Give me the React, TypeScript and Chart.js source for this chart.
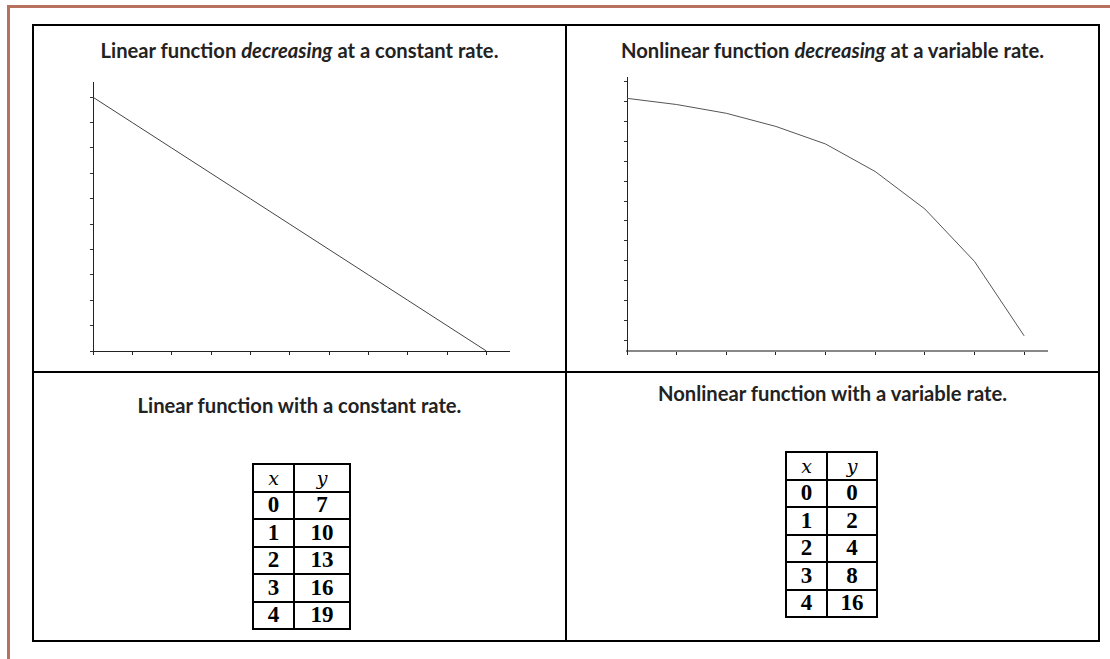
import React, { useEffect, useRef } from "react";
import { Chart, registerables } from "chart.js";

Chart.register(...registerables);

// ---- data ----
const linearX = [0, 1, 2, 3, 4, 5, 6, 7, 8, 9, 10];
const linearY = [10, 9, 8, 7, 6, 5, 4, 3, 2, 1, 0];
const curveX = [0, 1, 2, 3, 4, 5, 6, 7, 8];
const curveY = [12.15, 11.84, 11.4, 10.74, 9.86, 8.48, 6.6, 3.97, 0.24];

const table1X = ["0", "1", "2", "3", "4"];
const table1Y = ["7", "10", "13", "16", "19"];
const table2X = ["0", "1", "2", "3", "4"];
const table2Y = ["0", "2", "4", "8", "16"];

const titleTopLeft = ["Linear function ", "decreasing", " at a constant rate."];
const titleTopRight = ["Nonlinear function ", "decreasing", " at a variable rate."];
const titleBottomLeft = "Linear function with a constant rate.";
const titleBottomRight = "Nonlinear function with a variable rate.";

type ChartProps = {
  xs: number[];
  ys: number[];
  xMax: number;
  yMin: number;
  yMax: number;
  left: number;
  top: number;
  width: number;
  height: number;
  xAxisColor: string;
  xAxisWidth: number;
  yAxisColor: string;
  lineColor: string;
};

function LineChart(p: ChartProps) {
  const ref = useRef<HTMLCanvasElement>(null);
  useEffect(() => {
    const chart = new Chart(ref.current!, {
      type: "line",
      data: {
        datasets: [
          {
            data: p.xs.map((x, i) => ({ x, y: p.ys[i] })),
            borderColor: p.lineColor,
            borderWidth: 1,
            pointRadius: 0,
            fill: false,
            tension: 0,
          },
        ],
      },
      options: {
        animation: false,
        responsive: false,
        maintainAspectRatio: false,
        devicePixelRatio: 1,
        events: [],
        layout: { padding: 0 },
        plugins: {
          legend: { display: false },
          tooltip: { enabled: false },
          title: { display: false },
        },
        scales: {
          x: {
            type: "linear",
            min: 0,
            max: p.xMax,
            afterFit: (s: any) => {
              s.height = 10;
            },
            ticks: { display: false, stepSize: 1, includeBounds: false },
            grid: {
              drawOnChartArea: false,
              drawTicks: true,
              tickLength: 4,
              color: "#222",
              lineWidth: 1,
            },
            border: { display: true, color: p.xAxisColor, width: p.xAxisWidth },
          },
          y: {
            type: "linear",
            min: p.yMin,
            max: p.yMax,
            afterFit: (s: any) => {
              s.width = 10;
            },
            ticks: { display: false, stepSize: 1, includeBounds: false },
            grid: {
              drawOnChartArea: false,
              drawTicks: true,
              tickLength: 3,
              color: "#333",
              lineWidth: 1,
            },
            border: { display: true, color: p.yAxisColor, width: 1 },
          },
        },
      } as any,
    });
    return () => chart.destroy();
  }, []);
  return (
    <canvas
      ref={ref}
      width={p.width}
      height={p.height}
      style={{ position: "absolute", left: p.left, top: p.top, width: p.width, height: p.height }}
    />
  );
}

const titleFont: React.CSSProperties = {
  fontFamily: "Lato, 'Noto Sans', sans-serif",
  fontWeight: 700,
  fontSize: 20.2,
  color: "#222",
  lineHeight: "24px",
  textAlign: "center",
  position: "absolute",
  whiteSpace: "nowrap",
};

function Title({ left, width, top, parts }: { left: number; width: number; top: number; parts: string[] }) {
  return (
    <div style={{ ...titleFont, left, width, top }}>
      {parts.map((t, i) => (i === 1 && parts.length === 3 ? <i key={i}>{t}</i> : <span key={i}>{t}</span>))}
    </div>
  );
}

function DataTable({
  left,
  top,
  xs,
  ys,
  col1,
  col2,
}: {
  left: number;
  top: number;
  xs: string[];
  ys: string[];
  col1: number;
  col2: number;
}) {
  const cell: React.CSSProperties = {
    border: "2px solid #000",
    padding: 0,
    height: 25.5,
    textAlign: "center",
    verticalAlign: "middle",
    fontFamily: "'Liberation Serif', 'DejaVu Serif', serif",
    fontWeight: 700,
    fontSize: 23,
    lineHeight: "20px",
    color: "#000",
  };
  const head: React.CSSProperties = {
    ...cell,
    fontFamily: "'DejaVu Serif', serif",
    fontWeight: 400,
    fontStyle: "italic",
    fontSize: 19,
  };
  return (
    <table
      style={{
        position: "absolute",
        left,
        top,
        borderCollapse: "collapse",
        tableLayout: "fixed",
        width: col1 + col2,
      }}
    >
      <colgroup>
        <col style={{ width: col1 }} />
        <col style={{ width: col2 }} />
      </colgroup>
      <tbody>
        <tr>
          <td style={head}>x</td>
          <td style={head}>y</td>
        </tr>
        {xs.map((x, i) => (
          <tr key={i}>
            <td style={cell}>{x}</td>
            <td style={cell}>{ys[i]}</td>
          </tr>
        ))}
      </tbody>
    </table>
  );
}

export default function App() {
  return (
    <div
      style={{
        position: "absolute",
        left: 0,
        top: 0,
        width: 1110,
        height: 659,
        overflow: "hidden",
        background: "#fff",
      }}
    >
      {/* page border */}
      <div
        style={{
          position: "absolute",
          left: 7,
          top: 5,
          width: 1200,
          height: 800,
          borderTop: "3px solid #b8705f",
          borderLeft: "3px solid #b8705f",
        }}
      />
      {/* grid */}
      <div
        style={{
          position: "absolute",
          left: 32,
          top: 24,
          width: 1068,
          height: 618,
          border: "2px solid #000",
          boxSizing: "border-box",
        }}
      />
      <div style={{ position: "absolute", left: 565, top: 24, width: 2, height: 618, background: "#000" }} />
      <div style={{ position: "absolute", left: 32, top: 371, width: 1068, height: 2, background: "#000" }} />

      <Title left={34} width={531} top={38} parts={titleTopLeft} />
      <Title left={567} width={531} top={38} parts={titleTopRight} />
      <Title left={34} width={531} top={393} parts={[titleBottomLeft]} />
      <Title left={567} width={531} top={381} parts={[titleBottomRight]} />

      <LineChart
        xs={linearX}
        ys={linearY}
        xMax={10.6}
        yMin={0}
        yMax={10.6}
        left={83}
        top={82}
        width={427}
        height={279}
        xAxisColor="#222"
        xAxisWidth={1}
        yAxisColor="#222"
        lineColor="#444"
      />
      <LineChart
        xs={curveX}
        ys={curveY}
        xMax={8.48}
        yMin={-0.52}
        yMax={13.22}
        left={617}
        top={77}
        width={431}
        height={284}
        xAxisColor="#888"
        xAxisWidth={2}
        yAxisColor="#222"
        lineColor="#555"
      />

      <DataTable left={252} top={463} xs={table1X} ys={table1Y} col1={41} col2={56} />
      <DataTable left={785} top={451} xs={table2X} ys={table2Y} col1={41} col2={50} />
    </div>
  );
}
